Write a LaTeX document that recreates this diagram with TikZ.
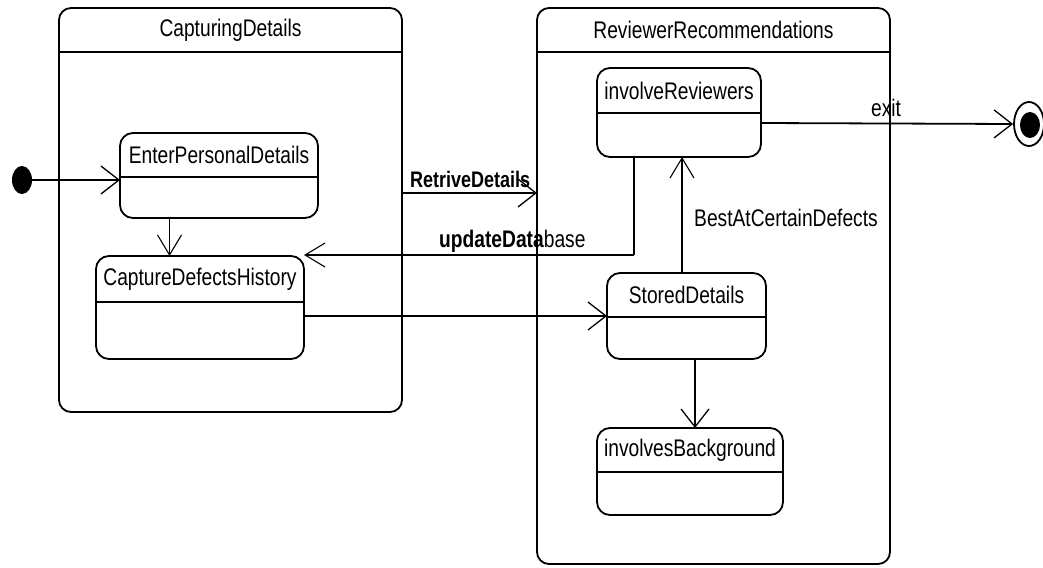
\documentclass[tikz,border=0pt]{standalone}
\usepackage{fontspec}
\newfontfamily\umlfont[FakeStretch=0.8]{Liberation Sans}
\usetikzlibrary{arrows.meta,calc,shapes.geometric}

\tikzset{
  composite/.style={draw, line width=1.8pt, rounded corners=12pt, inner sep=0pt, outer sep=0pt},
  stbox/.style={draw, line width=1.8pt, rounded corners=13pt, inner sep=0pt, outer sep=0pt},
  divline/.style={line width=1.4pt},
  lbl/.style={font=\umlfont\fontsize{24}{26}\selectfont, inner sep=0pt},
  blbl/.style={font=\umlfont\bfseries\fontsize{22.5}{26}\selectfont, inner sep=0pt},
  arr/.style={line width=1.8pt, -{Straight Barb[length=18pt,width=28pt,line width=1.3pt]}},
  thinarr/.style={line width=1.1pt, -{Straight Barb[length=20pt,width=24pt,line width=1.1pt]}},
}

% name, x, y, width, height, header height, title, style
\newcommand\umlstate[8]{%
  \node[#8, minimum width=#4pt, minimum height=#5pt, anchor=north west] (#1) at (#2,#3) {};
  \draw[divline] ([yshift=-#6pt]#1.north west) -- ([yshift=-#6pt]#1.north east);
  \node[lbl] (#1-t) at ([yshift=-#6/2*1pt]#1.north) {#7};
}

\begin{document}
\begin{tikzpicture}[x=1pt, y=-1pt]
  \useasboundingbox (0,0) rectangle (1043,567);

  % composite states
  \umlstate{cd}{59}{8}{343}{404}{44}{CapturingDetails}{composite}
  \umlstate{rr}{537}{8}{353}{556}{44}{ReviewerRecommendations}{composite}

  % simple states
  \umlstate{ep}{120}{133}{198}{85}{44}{EnterPersonalDetails}{stbox}
  \umlstate{cdh}{96}{256}{208}{103}{46}{CaptureDefectsHistory}{stbox}
  \umlstate{ir}{597}{68}{164}{89}{45}{involveReviewers}{stbox}
  \umlstate{sd}{607}{273}{159}{86}{44}{StoredDetails}{stbox}
  \umlstate{ib}{597}{428}{186}{87}{44}{involvesBackground}{stbox}

  % pseudo states
  \node[fill, ellipse, minimum width=20pt, minimum height=28pt, inner sep=0pt] (init) at (22,180) {};
  \node[draw, line width=1.8pt, ellipse, minimum width=30pt, minimum height=44pt, inner sep=0pt] (final) at (1029,124) {};
  \node[fill, ellipse, minimum width=20pt, minimum height=26pt, inner sep=0pt] (finaldot) at (1030,125) {};

  % attachment points on the state borders
  \coordinate (ep-out) at ($(ep.south west)!0.25!(ep.south east)$);
  \coordinate (ir-out) at ($(ir.south west)!0.226!(ir.south east)$);
  \coordinate (ud) at (ir-out |- 0,255);

  % transitions
  \draw[arr] (init) -- (init -| ep.west);
  \draw[thinarr] (ep-out) -- (ep-out |- cdh.north);
  \draw[arr] (cd.east |- 0,193) -- (rr.west |- 0,193);
  \draw[line width=1.6pt] (ir-out) -- (ud);
  \draw[thinarr] (ud) -- (cdh.north east |- ud);
  \draw[arr] (cdh.east |- 0,316) -- (sd.west |- 0,316);
  \draw[thinarr] (sd.north -| 682,0) -- (ir.south -| 682,0);
  \draw[arr] (sd.south -| 695,0) -- (ib.north -| 695,0);
  \draw[arr] (ir.east |- 0,123) -- (final.west);

  % transition labels
  \node[blbl, anchor=west] (l-retrive) at (410,179) {RetriveDetails};
  \node[lbl, anchor=west] (l-update) at (439,241) {\textbf{updateData}base};
  \node[lbl] (l-best) at (786,218) {BestAtCertainDefects};
  \node[lbl] (l-exit) at (886,108) {exit};
\end{tikzpicture}
\end{document}
